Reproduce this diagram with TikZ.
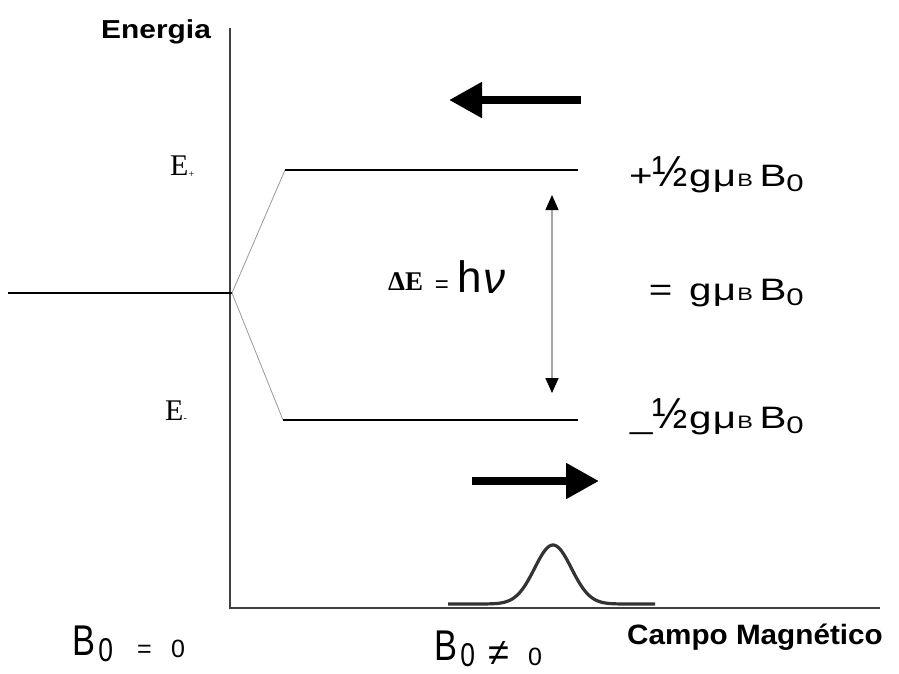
\documentclass[tikz,border=0pt]{standalone}
\usepackage{fontspec}
\setmainfont{Liberation Sans}
\newfontfamily\serifE{Liberation Serif}
\usetikzlibrary{arrows.meta}
\newcommand{\fs}[1]{\fontsize{#1}{#1}\selectfont}
\newcommand{\half}{\scalebox{1.05}[1.4]{½}}
\newcommand{\splitlab}[1]{\scalebox{1.3}[1]{\fs{31}#1\kern1pt g\kern1pt μ\kern1pt{\fs{18}B}\kern5pt B\raisebox{-5pt}{\fs{24}0}}}
\newcommand{\bzero}{\scalebox{0.8}[1]{\fs{43}B\kern4pt\raisebox{-6pt}{\fs{33}0}}}
\begin{document}
\begin{tikzpicture}[x=1pt,y=-1pt,
  axis/.style={line width=1.6pt, draw=black!75},
  level/.style={line width=1.3pt},
  branch/.style={line width=0.8pt, draw=black!40},
  bigarrow/.style={line width=8pt, -{Triangle[length=33pt,width=34pt]}},
  gap/.style={line width=1.6pt, draw=black!35, {Triangle[length=15pt,width=13pt,color=black]}-{Triangle[length=15pt,width=13pt,color=black]}},
  txt/.style={inner sep=0pt},
]
\useasboundingbox (0,0) rectangle (899,673);
% axes
\coordinate (ytop) at (230,28);
\coordinate (orig) at (230,608);
\coordinate (xend) at (880,608);
\draw[axis] (ytop) -- (orig) -- (xend);
% zero-field level
\coordinate (z0) at (8,293);
\coordinate (split) at (232,293);
\draw[level] (z0) -- (split);
% split levels
\coordinate (u0) at (285,170);
\coordinate (u1) at (578,170);
\coordinate (d0) at (283,420);
\coordinate (d1) at (578,420);
\draw[branch] (split) -- (u0);
\draw[branch] (split) -- (d0);
\draw[level] (u0) -- (u1);
\draw[level] (d0) -- (d1);
% gap arrow
\coordinate (ga) at (552,195);
\coordinate (gb) at (552,393);
\draw[gap] (ga) -- (gb);
% big arrows
\coordinate (la0) at (581,100);
\coordinate (la1) at (449,100);
\draw[bigarrow] (la0) -- (la1);
\coordinate (ra0) at (472,481);
\coordinate (ra1) at (599,481);
\draw[bigarrow] (ra0) -- (ra1);
% absorption line
\draw[line width=3.2pt, draw=black!80, line join=round]
  plot[domain=448:655, samples=140, smooth] (\x, {604-59*exp(-((\x-553)/26)^2)});
% axis titles
\node[txt, anchor=base west] (energia) at (101,38) {\scalebox{1.15}[1]{\bfseries\fs{26}Energia}};
\node[txt, anchor=base west] (campo) at (627,644) {\scalebox{1.06}[1]{\bfseries\fs{28}Campo Magnético}};
% level labels
\node[txt, anchor=base west, font=\serifE\fs{30}] (ep) at (170,175) {E\raisebox{-2pt}{\fs{10}+}};
\node[txt, anchor=base west, font=\serifE\fs{30}] (em) at (165,420) {E\raisebox{-1pt}{\fs{10}-}};
% resonance condition
\node[txt, anchor=base west] (de) at (388,290) {\serifE\bfseries\fs{27}ΔE};
\node[txt] (eq) at (442,287) {\fs{24}=};
\node[txt, anchor=base west] (hh) at (457,292) {\fs{44}h};
\node[txt, anchor=base west] (nu) at (483,293) {\fs{44}\itshape ν};
% splitting labels
\node[txt, anchor=base east] (lu) at (804,186) {\splitlab{+\half}};
\node[txt, anchor=base east] (lm) at (804,300) {\splitlab{=\kern12pt}};
\node[txt, anchor=base east] (ld) at (804,428) {\splitlab{\_\half}};
% bottom labels
\node[txt, anchor=base west] (b0) at (72,655) {\bzero};
\node[txt, anchor=base west] (b0eq) at (137,657) {\fs{25}=};
\node[txt, anchor=base west] (b0z) at (171,657) {\fs{25}0};
\node[txt, anchor=base west] (b1) at (434,660) {\bzero};
\node[txt, anchor=base west] (b1ne) at (488,665) {\fs{38}≠};
\node[txt, anchor=base west] (b1z) at (528,665) {\fs{25}0};
\end{tikzpicture}
\end{document}
